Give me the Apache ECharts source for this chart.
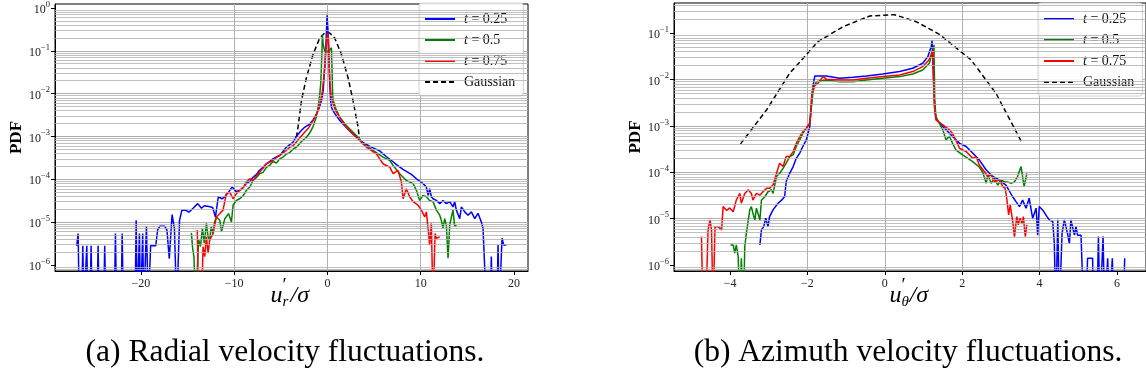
<!DOCTYPE html>
<html><head><meta charset="utf-8">
<script src="https://cdn.jsdelivr.net/npm/echarts@6/dist/echarts.min.js"></script>
<style>html,body{margin:0;padding:0;background:#fff}#c{width:1146px;height:383px}</style>
</head><body><div id="c"></div>
<script>
// ---------------- data ----------------
const seriesNames = ['t = 0.25', 't = 0.5', 't = 0.75', 'Gaussian'];
const seriesColors = ['#0000ff', '#008000', '#ff0000', '#000000'];
const radialTicks = [-20, -10, 0, 10, 20];
const azimTicks = [-4, -2, 0, 2, 4, 6];
const logTicksRadial = [1e-6, 1e-5, 1e-4, 1e-3, 1e-2, 1e-1, 1];
const logTicksAzim = [1e-6, 1e-5, 1e-4, 1e-3, 1e-2, 1e-1];
// 1e-7 marks empty bins (below the visible range)
const radialBlue = [[-26.87,2.8e-6],[-26.72,5.4e-6],[-26.6,1e-7],[-26.34,1e-7],[-26.22,2.8e-6],[-26.1,1e-7],[-25.9,1e-7],[-25.79,2.8e-6],[-25.68,1e-7],[-25.45,1e-7],[-25.33,2.8e-6],[-25.21,1e-7],[-24.7,1e-7],[-24.58,2.8e-6],[-24.46,1e-7],[-23.99,1e-7],[-23.87,2.8e-6],[-23.75,1e-7],[-22.84,1e-7],[-22.72,5.4e-6],[-22.6,1e-7],[-22.12,1e-7],[-22.0,5.4e-6],[-21.88,1e-7],[-20.62,1e-7],[-20.5,1.1e-5],[-20.38,1e-7],[-20.27,1e-7],[-20.15,5.4e-6],[-20.03,1e-7],[-19.92,1e-7],[-19.8,5.4e-6],[-19.68,1e-7],[-19.52,1e-7],[-19.4,8e-6],[-19.2,1e-7],[-18.95,2.8e-6],[-18.4,2.8e-6],[-18.2,6.6e-6],[-17.95,8e-6],[-17.75,7.2e-6],[-17.45,8e-6],[-17.2,6.5e-6],[-16.95,1.4e-6],[-16.65,1.5e-5],[-16.4,7e-6],[-16.15,1e-7],[-15.85,1.1e-5],[-15.6,1.9e-5],[-15.2,1.9e-5],[-14.85,1.7e-5],[-14.4,2.1e-5],[-13.9,2.7e-5],[-13.5,2.1e-5],[-13.2,2.4e-5],[-12.7,2.3e-5],[-12.3,2.2e-5],[-12.0,1.3e-5],[-11.7,3.9e-5],[-11.3,3.5e-5],[-11.0,3.9e-5],[-10.6,5.0e-5],[-10.2,6.6e-5],[-9.8,5.2e-5],[-9.4,5.5e-5],[-9.0,6.5e-5],[-8.7,7.9e-5],[-8.3,9e-5],[-8.0,1.1e-4],[-7.6,1.3e-4],[-7.3,1.6e-4],[-6.9,1.9e-4],[-6.55,2.3e-4],[-6.2,2.6e-4],[-5.85,3.0e-4],[-5.5,3.3e-4],[-5.1,3.6e-4],[-4.75,4.5e-4],[-4.4,5.6e-4],[-4.0,6.5e-4],[-3.7,7.3e-4],[-3.33,1.0e-3],[-2.9,1.3e-3],[-2.5,1.6e-3],[-1.9,1.95e-3],[-1.5,2.5e-3],[-1.18,3.3e-3],[-0.9,4.5e-3],[-0.64,6.8e-3],[-0.45,0.012],[-0.36,0.024],[-0.25,0.05],[-0.18,0.1],[-0.1,0.3],[-0.04,0.68],[0.04,0.35],[0.1,0.2],[0.18,0.05],[0.25,0.017],[0.34,7e-3],[0.43,4.8e-3],[0.6,4.0e-3],[0.8,3.4e-3],[1.3,2.4e-3],[2.0,1.65e-3],[2.8,1.1e-3],[3.8,7.3e-4],[4.6,5.8e-4],[5.6,4.6e-4],[6.3,3.4e-4],[7.0,2.6e-4],[7.4,2.2e-4],[8.1,1.7e-4],[8.5,1.5e-4],[9.0,1.3e-4],[9.6,1.0e-4],[10.25,7.9e-5],[10.6,6.6e-5],[10.8,4.2e-5],[10.96,6.0e-5],[11.14,3.9e-5],[11.32,3.5e-5],[11.68,3.2e-5],[12.04,2.7e-5],[12.39,3.2e-5],[12.75,2.7e-5],[13.11,3.0e-5],[13.46,2.26e-5],[13.64,3.0e-5],[13.82,1.9e-5],[14.18,1.2e-5],[14.36,2.26e-5],[14.72,1.73e-5],[15.07,1.45e-5],[15.43,1.73e-5],[15.79,1.2e-5],[16.14,1.6e-5],[16.5,1.0e-5],[16.68,7.1e-6],[17.04,1e-7],[17.45,1e-7],[17.57,1.56e-6],[17.7,1e-7],[18.17,1e-7],[18.29,2.9e-6],[18.41,1e-7],[18.6,1e-7],[18.72,4.2e-6],[18.9,2.9e-6],[19.18,2.9e-6]];
const radialGreen = [[-14.58,5.6e-6],[-14.45,2.5e-6],[-14.3,1.5e-6],[-14.15,1e-7],[-13.95,1e-7],[-13.8,3.8e-6],[-13.6,2.7e-6],[-13.4,7.1e-6],[-13.2,3.2e-6],[-12.97,9.3e-6],[-12.79,4.5e-6],[-12.62,3.8e-6],[-12.45,7.8e-6],[-12.26,5.4e-6],[-12.1,1.0e-5],[-11.9,1.32e-5],[-11.7,1.2e-5],[-11.54,1.1e-5],[-11.35,6.0e-6],[-11.19,5.9e-6],[-11.0,1.2e-5],[-10.83,1.32e-5],[-10.6,1.58e-5],[-10.29,1.0e-5],[-10.11,2.5e-5],[-9.76,3.2e-5],[-9.4,3.5e-5],[-9.0,4.2e-5],[-8.69,5.5e-5],[-8.33,6.5e-5],[-7.97,9.4e-5],[-7.6,1.1e-4],[-7.26,1.35e-4],[-6.9,1.45e-4],[-6.54,1.9e-4],[-6.2,2.1e-4],[-5.83,2.6e-4],[-5.47,2.4e-4],[-5.11,3.0e-4],[-4.76,3.3e-4],[-4.4,3.9e-4],[-4.04,4.2e-4],[-3.68,5.1e-4],[-3.33,5.6e-4],[-2.8,7.5e-4],[-2.25,9.6e-4],[-1.9,1.2e-3],[-1.54,1.7e-3],[-1.2,2.8e-3],[-1.0,4.8e-3],[-0.82,9.7e-3],[-0.72,0.0166],[-0.65,0.04],[-0.58,0.1],[-0.54,0.24],[-0.45,0.14],[-0.29,0.099],[0.1,0.095],[0.25,0.105],[0.43,0.118],[0.5,0.13],[0.56,0.01],[0.61,7e-3],[0.9,4.5e-3],[1.32,2.8e-3],[2.03,1.8e-3],[3.11,1.05e-3],[3.82,6.7e-4],[4.89,4.7e-4],[5.96,3.3e-4],[6.68,2.75e-4],[7.04,2.1e-4],[7.75,1.35e-4],[8.46,9.4e-5],[9.18,7.9e-5],[9.54,5.5e-5],[9.89,3.2e-5],[10.25,4.2e-5],[10.61,3.9e-5],[10.96,3.2e-5],[11.32,3.0e-5],[11.68,1.9e-5],[12.04,1.45e-5],[12.21,1.1e-5],[12.39,7.1e-6],[12.57,1.2e-5],[12.75,8.5e-6],[12.93,1.43e-6],[13.11,8.5e-6],[13.29,1.32e-5],[13.46,1.9e-5],[13.64,7.8e-6],[13.82,8.5e-6]];
const radialRed = [[-13.95,6.5e-6],[-13.8,1e-7],[-13.5,1e-7],[-13.33,2.66e-6],[-13.15,1.56e-6],[-12.97,4.5e-6],[-12.79,1.87e-6],[-12.62,3.8e-6],[-12.26,5.4e-6],[-11.9,1.32e-5],[-11.54,1.58e-5],[-11.19,1.9e-5],[-10.83,4.6e-5],[-10.47,5.0e-5],[-10.11,3.5e-5],[-9.76,4.6e-5],[-9.4,5.5e-5],[-9.0,6.5e-5],[-8.69,8.6e-5],[-8.33,1.03e-4],[-7.97,9.4e-5],[-7.6,1.2e-4],[-7.26,1.47e-4],[-6.9,1.8e-4],[-6.54,2.3e-4],[-6.2,2.5e-4],[-5.83,2.75e-4],[-5.47,3.2e-4],[-5.11,3.6e-4],[-4.76,4.1e-4],[-4.4,4.7e-4],[-4.04,5.6e-4],[-3.68,6.1e-4],[-3.2,8.0e-4],[-2.61,1.14e-3],[-2.0,1.6e-3],[-1.54,2.33e-3],[-1.1,3.6e-3],[-0.82,5.7e-3],[-0.55,0.011],[-0.39,0.024],[-0.18,0.099],[-0.05,0.2],[0.06,0.26],[0.15,0.1],[0.25,0.02],[0.4,9e-3],[0.61,5.7e-3],[0.9,3.9e-3],[1.32,2.8e-3],[2.03,1.63e-3],[3.11,9.6e-4],[4.18,5.6e-4],[5.25,3.9e-4],[5.96,2.3e-4],[6.32,2.1e-4],[6.68,1.92e-4],[7.04,1.35e-4],[7.57,1.61e-4],[7.93,8.6e-5],[8.11,3.5e-5],[8.46,6.0e-5],[8.82,3.9e-5],[9.18,3.0e-5],[9.71,2.5e-5],[10.07,1.9e-5],[10.43,1.32e-5],[10.61,1.73e-5],[10.79,7.1e-6],[10.96,2.9e-6],[11.14,9.3e-6],[11.32,1e-7],[11.43,1e-7],[11.54,5.4e-6],[11.68,4.2e-6],[12.04,4.5e-6]];
const radialGauss = [[-3.33,9.6e-4],[-3.15,1.63e-3],[-2.79,6.8e-3],[-2.25,0.0237],[-1.54,0.0826],[-0.82,0.2],[-0.29,0.26],[0.25,0.26],[0.78,0.2],[1.5,0.0826],[2.21,0.0237],[2.75,6.8e-3],[3.29,1.63e-3],[3.46,8e-4]];
const azimBlue = [[-3.23,2.7e-6],[-3.19,5.7e-6],[-3.13,6.7e-6],[-3.08,1.02e-5],[-3.02,6.7e-6],[-2.98,1.1e-5],[-2.89,1.54e-5],[-2.76,2.15e-5],[-2.67,2.5e-5],[-2.59,3.0e-5],[-2.55,6.3e-5],[-2.46,9.5e-5],[-2.37,1.33e-4],[-2.29,2.0e-4],[-2.2,2.6e-4],[-2.12,3.6e-4],[-2.03,5.0e-4],[-1.94,9.7e-4],[-1.86,7.1e-3],[-1.81,0.012],[-1.77,0.0126],[-1.51,0.012],[-1.17,0.0107],[-0.82,0.0112],[-0.48,0.012],[-0.05,0.0132],[0.38,0.0149],[0.72,0.0176],[0.98,0.0225],[1.11,0.0313],[1.2,0.0515],[1.22,0.0716],[1.27,0.0051],[1.3,1.88e-3],[1.34,1.35e-3],[1.5,9.7e-4],[1.75,5.9e-4],[1.93,4.2e-4],[2.1,3.6e-4],[2.27,2.6e-4],[2.44,1.85e-4],[2.62,1.12e-4],[2.79,8.1e-5],[2.96,6.8e-5],[3.13,5.3e-5],[3.3,3.0e-5],[3.39,2.33e-5],[3.48,1.82e-5],[3.56,2.5e-5],[3.65,1.68e-5],[3.73,2.75e-5],[3.82,1.02e-5],[3.91,1.68e-5],[3.95,4.4e-6],[3.99,1.82e-5],[4.08,1.54e-5],[4.16,1.2e-5],[4.25,9.4e-6],[4.34,8.6e-6],[4.38,2.9e-6],[4.42,1e-7],[4.47,9.4e-6],[4.51,1e-7],[4.58,4.8e-6],[4.64,9.4e-6],[4.72,4.8e-6],[4.77,2.9e-6],[4.81,9.4e-6],[4.85,6.7e-6],[4.9,4.4e-6],[4.94,6.7e-6],[4.98,4.4e-6],[5.07,4.4e-6],[5.14,1e-7],[5.2,1e-7],[5.24,1.4e-6],[5.37,1.4e-6],[5.39,1e-7],[5.48,1e-7],[5.52,4.1e-6],[5.56,1e-7],[5.6,1e-7],[5.64,4.1e-6],[5.68,1e-7],[5.72,1e-7],[5.76,1.4e-6],[5.8,1e-7],[5.84,1e-7],[5.88,1.4e-6],[5.92,1e-7],[6.16,1e-7],[6.2,1.4e-6]];
const azimGreen = [[-3.99,2.7e-6],[-3.92,2.7e-6],[-3.88,1.8e-6],[-3.84,2.7e-6],[-3.79,1.5e-6],[-3.75,1e-7],[-3.71,1.4e-6],[-3.66,1e-7],[-3.62,2.5e-6],[-3.58,4.8e-6],[-3.53,9.4e-6],[-3.49,1.54e-5],[-3.45,1.82e-5],[-3.41,1.3e-5],[-3.36,9.4e-6],[-3.32,1.68e-5],[-3.28,1.82e-5],[-3.23,9.4e-6],[-3.19,2.5e-5],[-3.1,3.0e-5],[-3.02,3.8e-5],[-2.93,4.2e-5],[-2.89,3.5e-5],[-2.8,8.1e-5],[-2.72,9.5e-5],[-2.63,1.22e-4],[-2.55,1.57e-4],[-2.46,2.18e-4],[-2.37,2.37e-4],[-2.29,3.6e-4],[-2.2,5.0e-4],[-2.12,6.9e-4],[-2.03,8.9e-4],[-1.94,1.14e-3],[-1.9,2.6e-3],[-1.86,5.1e-3],[-1.81,7.7e-3],[-1.77,9.0e-3],[-1.51,9.8e-3],[-1.17,9.0e-3],[-0.82,9.0e-3],[-0.48,9.8e-3],[-0.05,0.0107],[0.38,0.0116],[0.72,0.0132],[0.98,0.0161],[1.15,0.0225],[1.24,0.0436],[1.27,0.056],[1.29,3.64e-3],[1.32,1.59e-3],[1.41,1.14e-3],[1.5,8.2e-4],[1.58,5.0e-4],[1.63,4.6e-4],[1.67,6.0e-4],[1.75,4.2e-4],[1.84,3.0e-4],[2.01,2.37e-4],[2.27,1.7e-4],[2.44,1.3e-4],[2.53,1.0e-4],[2.62,5.8e-5],[2.66,8.8e-5],[2.75,5.8e-5],[2.83,7.4e-5],[2.92,5.3e-5],[3.0,6.8e-5],[3.09,6.2e-5],[3.17,6.2e-5],[3.26,5.8e-5],[3.35,6.2e-5],[3.43,8.1e-5],[3.52,1.33e-4],[3.6,4.9e-5],[3.67,9.5e-5]];
const azimRed = [[-4.74,4.1e-6],[-4.7,1e-7],[-4.63,1e-7],[-4.57,5.7e-6],[-4.52,9.4e-6],[-4.48,5.7e-6],[-4.44,1e-7],[-4.39,6.7e-6],[-4.31,6.7e-6],[-4.22,5.7e-6],[-4.18,1.82e-5],[-4.09,1.5e-5],[-4.01,1.7e-5],[-3.92,1.4e-5],[-3.84,2.5e-5],[-3.75,3.5e-5],[-3.71,2.15e-5],[-3.62,3.5e-5],[-3.53,4.2e-5],[-3.45,3.5e-5],[-3.41,2.5e-5],[-3.32,3.5e-5],[-3.23,3.2e-5],[-3.15,3.8e-5],[-3.06,4.5e-5],[-2.98,4.5e-5],[-2.89,5.3e-5],[-2.8,9.5e-5],[-2.72,1.57e-4],[-2.63,1.33e-4],[-2.55,2.18e-4],[-2.46,2.18e-4],[-2.37,2.8e-4],[-2.29,4.2e-4],[-2.2,5.9e-4],[-2.12,7.5e-4],[-2.03,8.9e-4],[-1.94,1.14e-3],[-1.9,3.64e-3],[-1.86,7.1e-3],[-1.73,8.3e-3],[-1.6,0.0116],[-1.51,0.0102],[-1.17,9.8e-3],[-0.82,9.8e-3],[-0.48,0.0107],[-0.05,0.0116],[0.38,0.0126],[0.72,0.0149],[0.98,0.0191],[1.14,0.0265],[1.24,0.0436],[1.28,2.6e-3],[1.32,1.35e-3],[1.5,1.05e-3],[1.67,8.2e-4],[1.75,6.9e-4],[1.93,3.3e-4],[2.1,2.8e-4],[2.27,2.0e-4],[2.36,2.18e-4],[2.44,1.44e-4],[2.57,1.04e-4],[2.66,8.1e-5],[2.75,8.8e-5],[2.83,6.3e-5],[2.96,6.8e-5],[3.05,4.9e-5],[3.11,4.5e-5],[3.15,2.75e-5],[3.2,1.2e-5],[3.24,1.98e-5],[3.3,9.4e-6],[3.35,4.1e-6],[3.41,1.1e-5],[3.45,7.3e-6],[3.49,1.02e-5],[3.55,7.9e-6],[3.58,1.1e-5],[3.63,4.1e-6],[3.67,7.3e-6]];
const azimGauss = [[-3.73,4.1e-4],[-3.06,2.2e-3],[-2.46,0.0137],[-1.73,0.066],[-1.08,0.139],[-0.39,0.236],[0.25,0.252],[0.81,0.178],[1.41,0.095],[2.23,0.0265],[2.87,0.0051],[3.56,4.1e-4]];
const captions = ['(a) Radial velocity fluctuations.', '(b) Azimuth velocity fluctuations.'];

// ---------------- chart ----------------
const FONT = 'Liberation Serif';
const GRIDC = '#b0b0b0';
function minorVals(lo, hi) {
  const out = [];
  for (let e = -8; e <= 1; e++) for (let m = 2; m <= 9; m++) {
    const v = m * Math.pow(10, e);
    if (v > lo && v < hi) out.push(v);
  }
  return out;
}
const supRich = {
  b: { fontFamily: FONT, fontSize: 12, color: '#222', lineHeight: 16, verticalAlign: 'bottom' },
  s: { fontFamily: FONT, fontSize: 8.5, color: '#222', lineHeight: 9, verticalAlign: 'top' }
};
function logFmt(v) {
  const n = Math.round(Math.log10(v));
  return '{b|10}{s|' + (n < 0 ? '\u2212' + (-n) : n) + '}';
}
function numFmt(v) { return v < 0 ? '\u2212' + (-v) : String(v); }
// internal series ids per panel: 'a0'..'a3' (radial), 'b0'..'b3' (azimuth)
function legendLabel(id) {
  const n = seriesNames[Number(id.slice(1))];
  return n.charAt(0) === 't' ? '{i|t}{n| = ' + n.slice(4) + '}' : n;
}

function xAxis(gi, min, max, ticks) {
  return {
    type: 'value', gridIndex: gi, min, max,
    axisLine: { show: true, onZero: false, lineStyle: { color: '#000', width: 1 } },
    axisTick: { show: true, length: 4, customValues: ticks, lineStyle: { color: '#000' } },
    axisLabel: { customValues: ticks, formatter: numFmt, fontFamily: FONT, fontSize: 12, color: '#222', margin: 7 },
    splitLine: { show: true, showMinLine: false, showMaxLine: false, lineStyle: { color: GRIDC, width: 1 } }
  };
}
function yAxis(gi, min, max, ticks, gap) {
  return {
    type: 'log', logBase: 10, gridIndex: gi, min, max,
    axisLine: { show: true, onZero: false, lineStyle: { color: '#000', width: 1 } },
    axisTick: { show: true, length: 4, customValues: ticks, lineStyle: { color: '#000' } },
    axisLabel: { customValues: ticks, formatter: logFmt, rich: supRich, margin: 5 },
    splitLine: { show: true, showMinLine: false, showMaxLine: false, lineStyle: { color: GRIDC, width: 1 } },
    name: 'PDF', nameLocation: 'middle', nameRotate: 90, nameGap: gap,
    nameTextStyle: { fontFamily: FONT, fontWeight: 'bold', fontSize: 17, color: '#000' }
  };
}
function lineSeries(prefix, idx, gi, data) {
  return {
    type: 'line', name: prefix + idx, xAxisIndex: gi, yAxisIndex: gi, data,
    symbol: 'none', clip: true, z: 3, animation: false,
    lineStyle: { color: seriesColors[idx], width: 1.5, type: idx === 3 ? [5, 3] : 'solid' },
    itemStyle: { color: seriesColors[idx] }
  };
}
function minorSeries(gi, lo, hi) {
  return {
    type: 'line', xAxisIndex: gi, yAxisIndex: gi, data: [], z: 1, silent: true, animation: false,
    markLine: {
      silent: true, symbol: ['none', 'none'], label: { show: false }, animation: false, precision: 12,
      lineStyle: { color: GRIDC, width: 0.8, type: 'solid' },
      data: minorVals(lo, hi).map(v => ({ yAxis: v }))
    }
  };
}
function legend(left, prefix) {
  return {
    orient: 'vertical', left, top: 3, width: 101,
    data: [0, 1, 2, 3].map(i => prefix + i), itemWidth: 30, itemHeight: 12, itemGap: 7,
    padding: [9, 8, 7, 5],
    backgroundColor: 'rgba(255,255,255,0.9)', borderColor: '#d0d0d0', borderWidth: 1, borderRadius: 3,
    itemStyle: { opacity: 0, borderWidth: 0 },
    textStyle: { fontFamily: FONT, fontSize: 14, color: '#111', padding: [0, 0, 0, 4],
      rich: { i: { fontFamily: FONT, fontStyle: 'italic', fontSize: 14, color: '#111' }, n: { fontFamily: FONT, fontSize: 14, color: '#111' } } },
    formatter: legendLabel,
    selectedMode: false
  };
}
function xlabel(cx, sub) {
  const f = 'italic 24px "' + FONT + '"';
  return {
    type: 'group', x: cx - 21, y: 296, children: [
      { type: 'text', x: 0, y: 0, style: { text: 'u', font: f, fill: '#000', verticalAlign: 'middle' } },
      { type: 'text', x: 12, y: -10, style: { text: '\u2032', font: '19px "' + FONT + '"', fill: '#000', verticalAlign: 'middle' } },
      { type: 'text', x: 12, y: 6, style: { text: sub, font: 'italic 15px "' + FONT + '"', fill: '#000', verticalAlign: 'middle' } },
      { type: 'text', x: 20, y: 0, style: { text: '/\u03c3', font: f, fill: '#000', verticalAlign: 'middle' } }
    ]
  };
}
const option = {
  animation: false,
  backgroundColor: '#fff',
  grid: [
    { left: 55, top: 3, width: 473, height: 268, show: true, borderColor: '#000', borderWidth: 1, backgroundColor: 'transparent' },
    { left: 674, top: 3, width: 473, height: 268, show: true, borderColor: '#000', borderWidth: 1, backgroundColor: 'transparent' }
  ],
  xAxis: [xAxis(0, -29.2, 21.5, radialTicks), xAxis(1, -5.45, 6.75, azimTicks)],
  yAxis: [yAxis(0, 7.2e-7, 1.24, logTicksRadial, 26), yAxis(1, 7.4e-7, 0.45, logTicksAzim, 28)],
  legend: [legend(419, 'a'), legend(1038, 'b')],
  series: [
    minorSeries(0, 7.2e-7, 1.24), minorSeries(1, 7.4e-7, 0.45),
    lineSeries('a', 3, 0, radialGauss),
    lineSeries('a', 0, 0, radialBlue),
    lineSeries('a', 1, 0, radialGreen),
    lineSeries('a', 2, 0, radialRed),
    lineSeries('b', 3, 1, azimGauss),
    lineSeries('b', 0, 1, azimBlue),
    lineSeries('b', 1, 1, azimGreen),
    lineSeries('b', 2, 1, azimRed)
  ],
  graphic: [
    xlabel(291.5, 'r'), xlabel(910.5, '\u03b8'),
    { type: 'text', x: 285, y: 353, style: { text: captions[0], font: '31.5px "' + FONT + '"', fill: '#000', align: 'center', verticalAlign: 'middle' } },
    { type: 'text', x: 908, y: 353, style: { text: captions[1], font: '31.5px "' + FONT + '"', fill: '#000', align: 'center', verticalAlign: 'middle' } }
  ]
};
const chart = echarts.init(document.getElementById('c'), null, { renderer: 'canvas' });
chart.setOption(option);
</script></body></html>
